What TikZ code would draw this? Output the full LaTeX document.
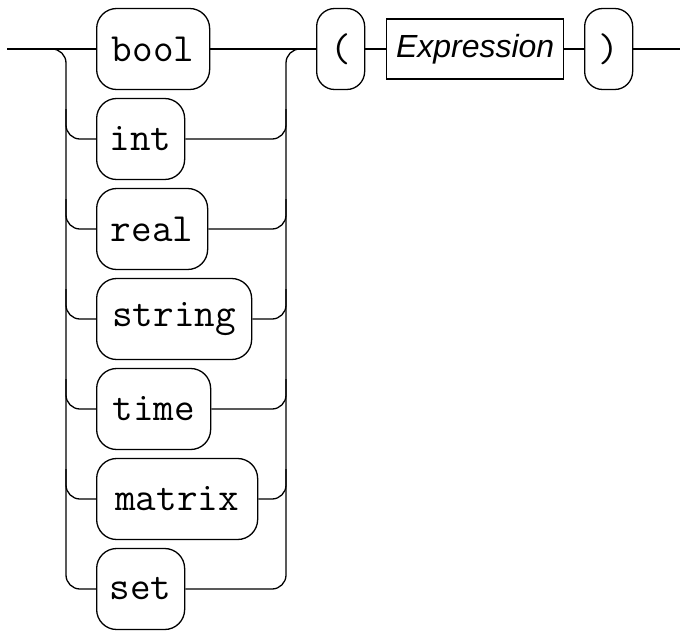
\documentclass[tikz,border=0pt]{standalone}
\usepackage{fontspec}
\newfontfamily\exprfont{Liberation Sans}
\begin{document}
\begin{tikzpicture}[x=1pt,y=-1pt,line width=1.3pt,
  term/.style={draw,rounded corners=20pt,minimum height=81pt,inner sep=0pt,anchor=west,
    font=\fontsize{40}{40}\selectfont\ttfamily},
  paren/.style={term,rounded corners=18pt,minimum width=48pt},
  nonterm/.style={draw,minimum height=60pt,minimum width=177pt,inner sep=0pt,anchor=west,
    font=\fontsize{32}{32}\selectfont\exprfont\itshape},
  track/.style={rounded corners=14pt}]
\useasboundingbox (0,0) rectangle (680,630);
% nodes
\node[term,minimum width=113pt] (bool)   at (96,49)  {bool};
\node[term,minimum width=88pt]  (int)    at (96,139) {int};
\node[term,minimum width=111pt] (real)   at (96,229) {real};
\node[term,minimum width=155pt] (string) at (96,319) {string};
\node[term,minimum width=114pt] (time)   at (96,409) {time};
\node[term,minimum width=161pt] (matrix) at (96,499) {matrix};
\node[term,minimum width=88pt]  (set)    at (96,589) {set};
\node[paren] (lp) at (316,49) {(};
\node[nonterm] (expr) at (386,49) {Expression};
\node[paren] (rp) at (584,49) {)};
\coordinate (start) at (7,49);
\coordinate (end) at (680,49);
\coordinate (lrail) at (66,589);
\coordinate (rrail) at (286,49);
% main line
\draw (start) -- (bool.west);
\draw (bool.east) -- (lp.west);
\draw (lp.east) -- (expr.west);
\draw (expr.east) -- (rp.west);
\draw (rp.east) -- (end);
% left rail
\draw[track] (start) -| (lrail) -- (set.west);
\foreach \n in {int,real,string,time,matrix}{
  \draw[track] ([yshift=30pt]\n.west -| lrail) |- (\n.west);
  \draw[track] (\n.east) -| ([yshift=30pt]\n.east -| rrail);
}
% right rail
\draw[track] (set.east) -| (rrail) -- (lp.west);
\end{tikzpicture}
\end{document}
